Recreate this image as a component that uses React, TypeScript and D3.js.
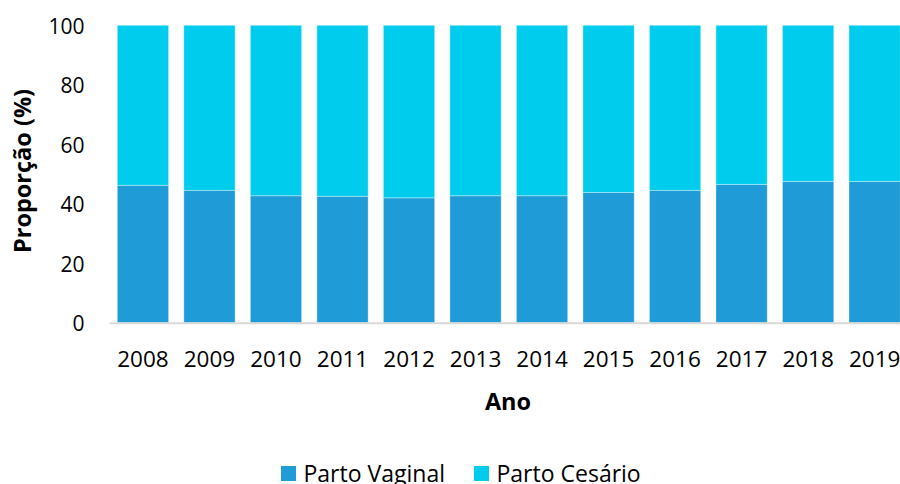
import React, { useEffect, useRef } from "react";
import * as d3 from "d3";

const anos = ["2008", "2009", "2010", "2011", "2012", "2013", "2014", "2015", "2016", "2017", "2018", "2019"];
const partoVaginal = [46.2, 44.5, 42.7, 42.5, 42.0, 42.7, 42.7, 43.8, 44.5, 46.5, 47.5, 47.5];
const partoCesario = [53.8, 55.5, 57.3, 57.5, 58.0, 57.3, 57.3, 56.2, 55.5, 53.5, 52.5, 52.5];
const yTicks = [0, 20, 40, 60, 80, 100];
const seriesNames = ["Parto Vaginal", "Parto Cesário"];
const seriesColors = ["#1f9bd7", "#00cdee"];

export default function App() {
  const ref = useRef<SVGSVGElement>(null);

  useEffect(() => {
    const svg = d3.select(ref.current);
    svg.selectAll("*").remove();

    const font = "'Open Sans', 'Noto Sans', sans-serif";

    const x = d3
      .scaleBand()
      .domain(anos)
      .range([109.7, 907.9])
      .paddingInner(0.229)
      .paddingOuter(0.1145);

    const y = d3.scaleLinear().domain([0, 100]).range([322.7, 25.3]);

    // rows for the stack
    const rows = anos.map((ano, i) => ({
      ano,
      vaginal: partoVaginal[i],
      cesario: partoCesario[i]
    }));
    const stack = d3.stack<any>().keys(["vaginal", "cesario"]);
    const layers = stack(rows);

    const g = svg.append("g");

    g.selectAll("g.layer")
      .data(layers)
      .enter()
      .append("g")
      .attr("class", "layer")
      .attr("fill", (d, i) => seriesColors[i])
      .selectAll("rect")
      .data((d) => d)
      .enter()
      .append("rect")
      .attr("x", (d: any) => x(d.data.ano) as number)
      .attr("y", (d) => y(d[1]))
      .attr("width", x.bandwidth())
      .attr("height", (d) => y(d[0]) - y(d[1]))
      .attr("stroke", "#ffffff")
      .attr("stroke-opacity", 0.35)
      .attr("stroke-width", 1);

    // x axis line
    g.append("line")
      .attr("x1", x.range()[0])
      .attr("x2", 900)
      .attr("y1", y(0) + 0.5)
      .attr("y2", y(0) + 0.5)
      .attr("stroke", "#d9d9d9")
      .attr("stroke-width", 2);

    // y tick labels
    g.selectAll("text.ytick")
      .data(yTicks)
      .enter()
      .append("text")
      .attr("class", "ytick")
      .attr("x", 84.5)
      .attr("y", (d) => y(d) + 1)
      .attr("dy", "0.36em")
      .attr("text-anchor", "end")
      .attr("font-family", font)
      .attr("font-size", "21px")
      .attr("fill", "#000")
      .text((d) => d);

    // x tick labels
    g.selectAll("text.xtick")
      .data(anos)
      .enter()
      .append("text")
      .attr("class", "xtick")
      .attr("x", (d) => (x(d) as number) + x.bandwidth() / 2)
      .attr("y", 367.3)
      .attr("text-anchor", "middle")
      .attr("font-family", font)
      .attr("font-size", "22.5px")
      .attr("fill", "#000")
      .text((d) => d);

    // axis titles
    g.append("text")
      .attr("x", 508)
      .attr("y", 410)
      .attr("text-anchor", "middle")
      .attr("font-family", font)
      .attr("font-weight", "bold")
      .attr("font-size", "23.5px")
      .attr("fill", "#000")
      .text("Ano");

    g.append("text")
      .attr("transform", "translate(30.5,171) rotate(-90)")
      .attr("text-anchor", "middle")
      .attr("font-family", font)
      .attr("font-weight", "bold")
      .attr("font-size", "23.5px")
      .attr("fill", "#000")
      .text("Proporção (%)");

    // legend
    const legendX = [281, 474];
    const legend = g
      .selectAll("g.legend")
      .data(seriesNames)
      .enter()
      .append("g")
      .attr("class", "legend")
      .attr("transform", (d, i) => "translate(" + legendX[i] + ",466)");

    legend
      .append("rect")
      .attr("width", 15)
      .attr("height", 15)
      .attr("fill", (d, i) => seriesColors[i]);

    legend
      .append("text")
      .attr("x", 22.5)
      .attr("y", 15.7)
      .attr("font-family", font)
      .attr("font-size", "23px")
      .attr("fill", "#000")
      .text((d) => d);
  }, []);

  return (
    <svg
      ref={ref}
      width={900}
      height={484}
      style={{ position: "absolute", left: 0, top: 0, background: "#fff" }}
    />
  );
}
